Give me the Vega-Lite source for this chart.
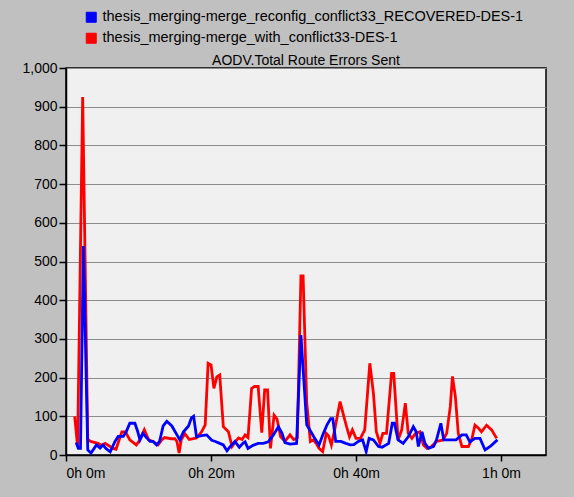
{
  "$schema": "https://vega.github.io/schema/vega-lite/v6.json",
  "width": 480,
  "height": 387,
  "autosize": {"type": "none"},
  "padding": {"left": 66, "top": 68, "right": 28, "bottom": 42},
  "background": "#c0c0c0",
  "title": {"text": "AODV.Total Route Errors Sent", "fontSize": 14, "fontWeight": "normal", "font": "Liberation Sans", "color": "#000000", "offset": -58},
  "datasets": {
    "red": [
      {"t": 1.2, "v": 100}, {"t": 1.6, "v": 22}, {"t": 2.3, "v": 925}, {"t": 3.0, "v": 40}, {"t": 3.4, "v": 35},
      {"t": 4.4, "v": 30}, {"t": 4.9, "v": 25}, {"t": 5.4, "v": 30}, {"t": 6.5, "v": 17}, {"t": 6.9, "v": 15},
      {"t": 7.7, "v": 60}, {"t": 8.2, "v": 60}, {"t": 8.8, "v": 39}, {"t": 9.7, "v": 26}, {"t": 10.2, "v": 39},
      {"t": 10.8, "v": 65}, {"t": 11.4, "v": 39}, {"t": 12.0, "v": 35}, {"t": 12.7, "v": 26}, {"t": 13.2, "v": 39},
      {"t": 13.6, "v": 45}, {"t": 14.5, "v": 42}, {"t": 15.0, "v": 42}, {"t": 15.3, "v": 35}, {"t": 15.6, "v": 5},
      {"t": 15.9, "v": 40}, {"t": 16.4, "v": 55}, {"t": 17.0, "v": 40}, {"t": 18.0, "v": 44}, {"t": 18.7, "v": 60},
      {"t": 19.2, "v": 78}, {"t": 19.6, "v": 237}, {"t": 20.0, "v": 233}, {"t": 20.4, "v": 172}, {"t": 20.8, "v": 202},
      {"t": 21.2, "v": 207}, {"t": 21.7, "v": 73}, {"t": 22.4, "v": 60}, {"t": 22.9, "v": 22}, {"t": 23.4, "v": 35},
      {"t": 23.8, "v": 44}, {"t": 24.3, "v": 40}, {"t": 24.7, "v": 52}, {"t": 25.1, "v": 45}, {"t": 25.6, "v": 172},
      {"t": 26.0, "v": 177}, {"t": 26.5, "v": 177}, {"t": 27.0, "v": 58}, {"t": 27.4, "v": 168}, {"t": 27.8, "v": 168},
      {"t": 28.2, "v": 17}, {"t": 28.7, "v": 103}, {"t": 29.1, "v": 93}, {"t": 29.6, "v": 47}, {"t": 30.2, "v": 35},
      {"t": 30.9, "v": 52}, {"t": 31.4, "v": 40}, {"t": 31.9, "v": 44}, {"t": 32.4, "v": 463}, {"t": 32.7, "v": 463},
      {"t": 33.2, "v": 135}, {"t": 33.7, "v": 35}, {"t": 34.1, "v": 39}, {"t": 34.5, "v": 30}, {"t": 34.9, "v": 17},
      {"t": 35.4, "v": 9}, {"t": 35.9, "v": 56}, {"t": 36.2, "v": 50}, {"t": 36.6, "v": 26}, {"t": 37.1, "v": 69},
      {"t": 37.8, "v": 138}, {"t": 38.2, "v": 108}, {"t": 38.7, "v": 73}, {"t": 39.1, "v": 47}, {"t": 39.5, "v": 65},
      {"t": 40.0, "v": 43}, {"t": 40.6, "v": 43}, {"t": 41.2, "v": 65}, {"t": 41.9, "v": 237}, {"t": 42.4, "v": 159},
      {"t": 42.8, "v": 60}, {"t": 43.3, "v": 30}, {"t": 43.7, "v": 56}, {"t": 44.2, "v": 56}, {"t": 44.9, "v": 211},
      {"t": 45.2, "v": 211}, {"t": 45.8, "v": 39}, {"t": 46.3, "v": 65}, {"t": 46.8, "v": 134}, {"t": 47.2, "v": 56},
      {"t": 47.7, "v": 43}, {"t": 48.2, "v": 56}, {"t": 48.8, "v": 60}, {"t": 49.3, "v": 26}, {"t": 49.8, "v": 17},
      {"t": 50.4, "v": 22}, {"t": 51.1, "v": 35}, {"t": 52.0, "v": 39}, {"t": 52.5, "v": 56}, {"t": 53.0, "v": 125},
      {"t": 53.3, "v": 203}, {"t": 53.7, "v": 151}, {"t": 54.1, "v": 56}, {"t": 54.6, "v": 22}, {"t": 55.5, "v": 22},
      {"t": 56.0, "v": 43}, {"t": 56.4, "v": 77}, {"t": 56.9, "v": 69}, {"t": 57.3, "v": 60}, {"t": 58.0, "v": 77},
      {"t": 58.7, "v": 65}, {"t": 59.4, "v": 43}
    ],
    "blue": [
      {"t": 1.4, "v": 32}, {"t": 1.7, "v": 17}, {"t": 2.0, "v": 17}, {"t": 2.4, "v": 540}, {"t": 3.0, "v": 13},
      {"t": 3.45, "v": 5}, {"t": 4.2, "v": 26}, {"t": 4.7, "v": 18}, {"t": 5.1, "v": 26}, {"t": 5.5, "v": 17},
      {"t": 6.1, "v": 8}, {"t": 6.76, "v": 35}, {"t": 7.2, "v": 48}, {"t": 7.9, "v": 48}, {"t": 8.3, "v": 60},
      {"t": 8.8, "v": 82}, {"t": 9.5, "v": 82}, {"t": 9.9, "v": 60}, {"t": 10.2, "v": 39}, {"t": 10.6, "v": 56},
      {"t": 11.1, "v": 45}, {"t": 11.6, "v": 35}, {"t": 12.0, "v": 35}, {"t": 12.5, "v": 26}, {"t": 12.9, "v": 35},
      {"t": 13.4, "v": 75}, {"t": 13.9, "v": 87}, {"t": 14.6, "v": 75}, {"t": 15.3, "v": 52}, {"t": 15.7, "v": 39},
      {"t": 16.2, "v": 60}, {"t": 16.9, "v": 75}, {"t": 17.3, "v": 96}, {"t": 17.6, "v": 100}, {"t": 18.0, "v": 47},
      {"t": 18.7, "v": 50}, {"t": 19.4, "v": 52}, {"t": 20.1, "v": 38}, {"t": 20.6, "v": 35}, {"t": 21.2, "v": 30},
      {"t": 21.7, "v": 26}, {"t": 22.2, "v": 11}, {"t": 22.6, "v": 21}, {"t": 23.3, "v": 35}, {"t": 23.9, "v": 20},
      {"t": 24.4, "v": 30}, {"t": 24.7, "v": 34}, {"t": 25.1, "v": 17}, {"t": 25.8, "v": 25}, {"t": 26.5, "v": 30},
      {"t": 27.2, "v": 30}, {"t": 27.9, "v": 34}, {"t": 28.6, "v": 52}, {"t": 29.3, "v": 73}, {"t": 29.8, "v": 56},
      {"t": 30.2, "v": 32}, {"t": 30.9, "v": 28}, {"t": 31.8, "v": 30}, {"t": 32.4, "v": 310}, {"t": 33.2, "v": 78},
      {"t": 33.9, "v": 56}, {"t": 34.3, "v": 43}, {"t": 34.9, "v": 26}, {"t": 35.5, "v": 56}, {"t": 36.0, "v": 78},
      {"t": 36.5, "v": 94}, {"t": 36.8, "v": 94}, {"t": 37.2, "v": 35}, {"t": 37.9, "v": 35}, {"t": 38.6, "v": 30},
      {"t": 39.2, "v": 26}, {"t": 39.7, "v": 27}, {"t": 40.3, "v": 35}, {"t": 40.9, "v": 39}, {"t": 41.4, "v": 9},
      {"t": 41.8, "v": 43}, {"t": 42.4, "v": 39}, {"t": 43.1, "v": 22}, {"t": 43.6, "v": 20}, {"t": 44.5, "v": 30},
      {"t": 45.0, "v": 82}, {"t": 45.3, "v": 82}, {"t": 45.8, "v": 39}, {"t": 46.5, "v": 30}, {"t": 47.2, "v": 47},
      {"t": 47.9, "v": 73}, {"t": 48.3, "v": 60}, {"t": 48.6, "v": 22}, {"t": 49.1, "v": 60}, {"t": 49.5, "v": 30},
      {"t": 50.0, "v": 17}, {"t": 50.7, "v": 22}, {"t": 51.1, "v": 39}, {"t": 51.7, "v": 82}, {"t": 52.1, "v": 39},
      {"t": 52.7, "v": 39}, {"t": 53.8, "v": 39}, {"t": 54.6, "v": 52}, {"t": 55.2, "v": 52}, {"t": 55.7, "v": 34},
      {"t": 56.4, "v": 43}, {"t": 57.1, "v": 43}, {"t": 57.8, "v": 13}, {"t": 58.5, "v": 22}, {"t": 59.5, "v": 39}
    ]
  },
  "layer": [
    {
      "data": {"name": "red"},
      "transform": [{"calculate": "'thesis_merging-merge_with_conflict33-DES-1'", "as": "series"}],
      "mark": {"type": "line", "strokeWidth": 2.8, "clip": true},
      "encoding": {
        "x": {"field": "t", "type": "quantitative"},
        "y": {"field": "v", "type": "quantitative"},
        "color": {"field": "series", "type": "nominal"}
      }
    },
    {
      "data": {"name": "blue"},
      "transform": [{"calculate": "'thesis_merging-merge_reconfig_conflict33_RECOVERED-DES-1'", "as": "series"}],
      "mark": {"type": "line", "strokeWidth": 2.8, "clip": true},
      "encoding": {
        "x": {"field": "t", "type": "quantitative"},
        "y": {"field": "v", "type": "quantitative"},
        "color": {"field": "series", "type": "nominal"}
      }
    }
  ],
  "resolve": {"scale": {"color": "shared"}},
  "encoding": {
    "x": {
      "field": "t", "type": "quantitative",
      "scale": {"domain": [0, 66.2], "nice": false, "zero": false},
      "axis": {
        "title": null, "values": [0, 20, 40, 60], "grid": false,
        "labelExpr": "floor(datum.value/60) + 'h ' + (datum.value % 60) + 'm'",
        "tickSize": 6, "labelPadding": 5, "labelFontSize": 14, "labelFont": "Liberation Sans",
        "labelColor": "#000000", "tickColor": "#000000", "domainColor": "#000000", "domainWidth": 1.5, "tickWidth": 1.5
      }
    },
    "y": {
      "field": "v", "type": "quantitative",
      "scale": {"domain": [0, 1000], "nice": false},
      "axis": {
        "title": null, "values": [0, 100, 200, 300, 400, 500, 600, 700, 800, 900, 1000], "format": ",d",
        "grid": true, "gridColor": "#8c8c8c", "gridWidth": 1.2, "gridOpacity": 1,
        "tickSize": 7, "labelPadding": 2, "labelFontSize": 14, "labelFont": "Liberation Sans",
        "labelColor": "#000000", "tickColor": "#000000", "domainColor": "#000000", "domainWidth": 1.5, "tickWidth": 1.5
      }
    },
    "color": {
      "field": "series", "type": "nominal",
      "scale": {
        "domain": ["thesis_merging-merge_reconfig_conflict33_RECOVERED-DES-1", "thesis_merging-merge_with_conflict33-DES-1"],
        "range": ["#0000ff", "#ff0000"]
      },
      "legend": {
        "title": null, "orient": "none", "legendX": 18, "legendY": -58, "direction": "vertical",
        "symbolType": "square", "symbolSize": 100,
        "symbolOpacity": 1, "labelFontSize": 14.5, "labelFont": "Liberation Sans", "labelColor": "#000000",
        "labelOffset": 4, "rowPadding": 5, "labelLimit": 600,
        "encode": {
          "symbols": {
            "update": {
              "fill": {"scale": "color", "field": "value"},
              "stroke": {"value": "#303030"},
              "strokeWidth": {"value": 1}
            }
          }
        }
      }
    }
  },
  "config": {
    "view": {"fill": "#f0f0f0", "stroke": "#000000", "strokeWidth": 1.5}
  }
}
